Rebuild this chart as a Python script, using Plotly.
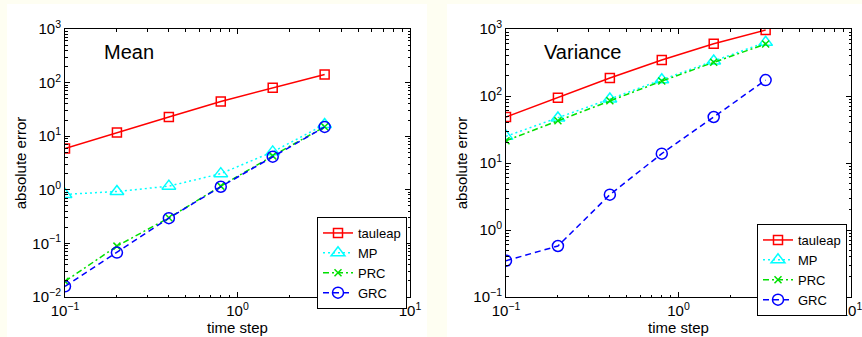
import plotly.graph_objects as go

time_step = [0.1, 0.2, 0.4, 0.8, 1.6, 3.2]

mean_tauleap = [5.9, 11.7, 22.9, 44.4, 80, 142]
mean_mp = [0.82, 0.93, 1.17, 2.0, 5.1, 16.5]
mean_prc = [0.0196, 0.089, 0.30, 1.17, 4.3, 15.0]
mean_grc = [0.0158, 0.0675, 0.296, 1.14, 4.15, 14.9]

var_tauleap = [48.6, 94, 186, 345, 604, 966]
var_mp = [25, 47, 90, 175, 333, 632]
var_prc = [21.5, 42.8, 85, 167, 318, 597]
var_grc = [0.348, 0.577, 3.37, 13.8, 48.6, 173]

series_names = ["tauleap", "MP", "PRC", "GRC"]
x_tickvals = [0.1, 1, 10]
x_ticktext = ["10<sup>\u22121</sup>", "10<sup>0</sup>", "10<sup>1</sup>"]
y1_tickvals = [0.01, 0.1, 1, 10, 100, 1000]
y1_ticktext = ["10<sup>\u22122</sup>", "10<sup>\u22121</sup>", "10<sup>0</sup>",
               "10<sup>1</sup>", "10<sup>2</sup>", "10<sup>3</sup>"]
y2_tickvals = [0.1, 1, 10, 100, 1000]
y2_ticktext = ["10<sup>\u22121</sup>", "10<sup>0</sup>", "10<sup>1</sup>",
               "10<sup>2</sup>", "10<sup>3</sup>"]

styles = {
    "tauleap": dict(color="#FF0000", dash="solid", symbol="square-open", size=9),
    "MP": dict(color="#00FFFF", dash="2px,3px", symbol="triangle-up-open", size=12),
    "PRC": dict(color="#00E000", dash="6px,3px,2px,3px", symbol="x-thin-open", size=7),
    "GRC": dict(color="#0000FF", dash="6px,4px", symbol="circle-open", size=11),
}

fig = go.Figure()

def add_series(ys, xa, ya, legend, show):
    for name, y in zip(series_names, ys):
        s = styles[name]
        fig.add_trace(go.Scatter(
            x=time_step, y=y, name=name, mode="lines+markers",
            xaxis=xa, yaxis=ya, legend=legend, showlegend=show,
            line=dict(color=s["color"], width=1.5, dash=s["dash"]),
            marker=dict(symbol=s["symbol"], size=s["size"], color=s["color"],
                        line=dict(color=s["color"], width=1.5)),
        ))

add_series([mean_tauleap, mean_mp, mean_prc, mean_grc], "x", "y", "legend", True)
add_series([var_tauleap, var_mp, var_prc, var_grc], "x2", "y2", "legend2", True)

minor_vals = [m * 10 ** k for k in range(-3, 4) for m in range(2, 10)]

axis_common = dict(
    type="log", showgrid=False, zeroline=False, showline=True, linecolor="black",
    linewidth=1, mirror="allticks", ticks="inside", ticklen=5, tickcolor="black",
    tickfont=dict(family="Liberation Sans, Arial", size=15, color="black"),
    minor=dict(ticks="inside", ticklen=2.5, tickcolor="black", tickmode="array",
               tickvals=minor_vals, showgrid=False),
    automargin=False, ticklabeloverflow="allow",
)
title_font = dict(family="Liberation Sans, Arial", size=15, color="black")
legend_font = dict(family="Liberation Sans, Arial", size=13, color="black")

fig.update_layout(
    width=862, height=337,
    margin=dict(l=0, r=0, t=0, b=0, autoexpand=False),
    paper_bgcolor="#FEFEF2", plot_bgcolor="white",
    font=dict(family="Liberation Sans, Arial", color="black"),
    xaxis=dict(axis_common, domain=[65 / 862, 410 / 862], range=[-1, 1],
               tickvals=x_tickvals, ticktext=x_ticktext,
               title=dict(text="time step", font=title_font, standoff=0), anchor="y"),
    yaxis=dict(axis_common, domain=[1 - 297 / 337, 1 - 29 / 337], range=[-2, 3],
               tickvals=y1_tickvals, ticktext=y1_ticktext,
               title=dict(text="absolute error", font=title_font, standoff=2), anchor="x"),
    xaxis2=dict(axis_common, domain=[506 / 862, 851 / 862], range=[-1, 1],
                tickvals=x_tickvals, ticktext=x_ticktext,
                title=dict(text="time step", font=title_font, standoff=0), anchor="y2"),
    yaxis2=dict(axis_common, domain=[1 - 297 / 337, 1 - 29 / 337], range=[-1, 3],
                tickvals=y2_tickvals, ticktext=y2_ticktext,
                title=dict(text="absolute error", font=title_font, standoff=2), anchor="x2"),
    legend=dict(x=407 / 862, y=1 - 217 / 337, xanchor="right", yanchor="top",
                bgcolor="white", bordercolor="black", borderwidth=1,
                font=legend_font, tracegroupgap=0, itemwidth=30),
    legend2=dict(x=847 / 862, y=1 - 224 / 337, xanchor="right", yanchor="top",
                 bgcolor="white", bordercolor="black", borderwidth=1,
                 font=legend_font, tracegroupgap=0, itemwidth=30),
    shapes=[
        dict(type="rect", xref="paper", yref="paper", x0=7 / 862, x1=427 / 862,
             y0=0, y1=1 - 4 / 337, fillcolor="white", line=dict(width=0), layer="below"),
        dict(type="rect", xref="paper", yref="paper", x0=447 / 862, x1=1,
             y0=0, y1=1 - 4 / 337, fillcolor="white", line=dict(width=0), layer="below"),
    ],
    annotations=[
        dict(text="Mean", xref="x domain", yref="y domain", x=0.107, y=0.915,
             xanchor="left", yanchor="middle", showarrow=False,
             font=dict(family="Liberation Sans, Arial", size=20, color="black")),
        dict(text="Variance", xref="x2 domain", yref="y2 domain", x=0.103, y=0.915,
             xanchor="left", yanchor="middle", showarrow=False,
             font=dict(family="Liberation Sans, Arial", size=20, color="black")),
    ],
)

fig.write_html("out.html", config={"displayModeBar": False},
               post_script="document.body.style.margin='0px';document.body.style.overflow='hidden';")
